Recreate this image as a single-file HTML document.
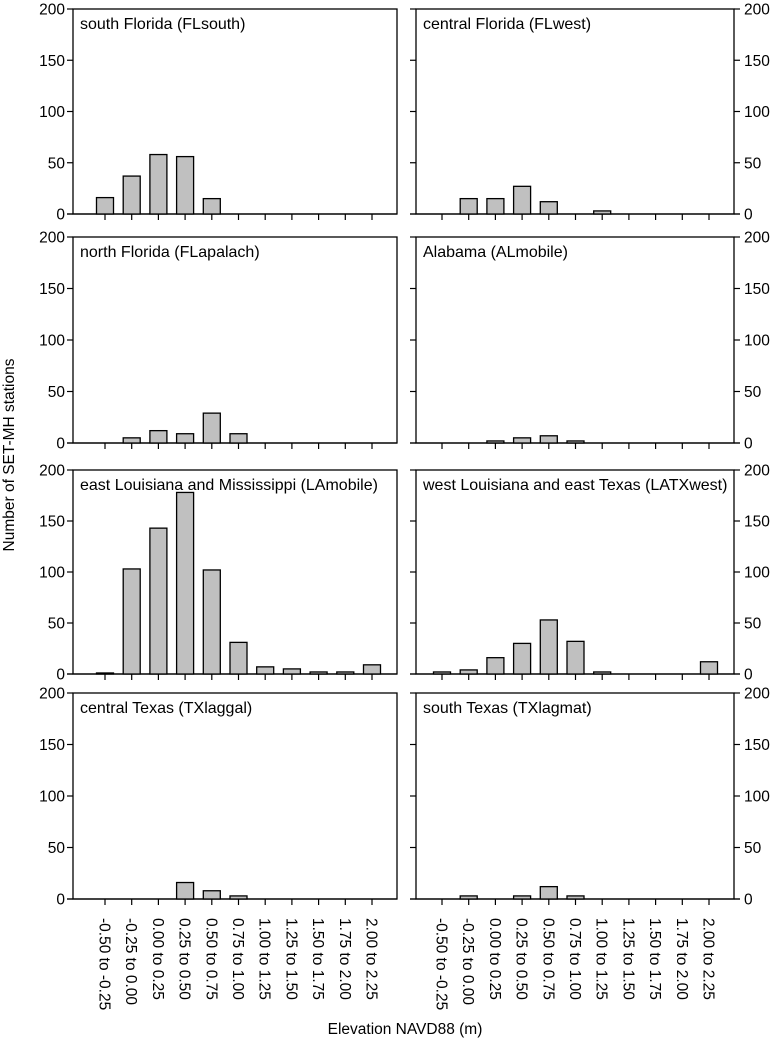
<!DOCTYPE html>
<html><head><meta charset="utf-8"><style>
body{margin:0;background:#fff}
svg{display:block;font-family:"Liberation Sans",Arial,sans-serif}
</style></head><body>
<svg id="chart" width="777" height="1042" xmlns="http://www.w3.org/2000/svg"></svg>
<script>
const categories=["-0.50 to -0.25","-0.25 to 0.00","0.00 to 0.25","0.25 to 0.50","0.50 to 0.75","0.75 to 1.00","1.00 to 1.25","1.25 to 1.50","1.50 to 1.75","1.75 to 2.00","2.00 to 2.25"];
const panelTitles=["south Florida (FLsouth)","central Florida (FLwest)","north Florida (FLapalach)","Alabama (ALmobile)","east Louisiana and Mississippi (LAmobile)","west Louisiana and east Texas (LATXwest)","central Texas (TXlaggal)","south Texas (TXlagmat)"];
const FLsouth=[16,37,58,56,15,0,0,0,0,0,0];
const FLwest=[0,15,15,27,12,0,3,0,0,0,0];
const FLapalach=[0,5,12,9,29,9,0,0,0,0,0];
const ALmobile=[0,0,2,5,7,2,0,0,0,0,0];
const LAmobile=[1,103,143,178,102,31,7,5,2,2,9];
const LATXwest=[2,4,16,30,53,32,2,0,0,0,12];
const TXlaggal=[0,0,0,16,8,3,0,0,0,0,0];
const TXlagmat=[0,3,0,3,12,3,0,0,0,0,0];
const yTicks=[0,50,100,150,200];
const series=[FLsouth,FLwest,FLapalach,ALmobile,LAmobile,LATXwest,TXlaggal,TXlagmat];

const svg=document.getElementById('chart');
const NS="http://www.w3.org/2000/svg";
function mk(tag,attrs,parent){const e=document.createElementNS(NS,tag);for(const k in attrs)e.setAttribute(k,attrs[k]);(parent||svg).appendChild(e);return e;}
const tops=[9,237,470,693], bases=[214,443,674,899];
const cols=[{x0:73,x1:397,first:105,right:false},{x0:416,x1:734,first:442,right:true}];
const step=26.7, bw=17, fs=15.5, tfs=16;
series.forEach((vals,i)=>{
  const r=Math.floor(i/2), c=cols[i%2];
  const top=tops[r], base=bases[r];
  const y=v=>base-(v/200)*(base-top);
  const xc=j=>c.first+j*step;
  const g=mk('g',{});
  
  
  const fr=mk('rect',{x:c.x0,y:top,width:c.x1-c.x0,height:base-top,fill:'none',stroke:'#000','stroke-width':1.3},g);
  
  
  const t=mk('text',{x:c.x0+7,y:top+20,'font-size':tfs},g);t.textContent=panelTitles[i];
  
  
  const ax=c.right?c.x1:c.x0;
  yTicks.forEach(v=>{
    const yy=y(v);
    const ln=mk('line',{x1:ax,x2:c.right?ax+6:ax-6,y1:yy,y2:yy,stroke:'#000','stroke-width':1.2},g);
    
    
    const lb=mk('text',{x:c.right?ax+10:ax-8,y:yy+5.5,'font-size':fs,'text-anchor':c.right?'start':'end'},g);
    lb.textContent=v;
    
    
  });
  if(c.right){yTicks.forEach(v=>{const ln=mk('line',{x1:c.x0,x2:c.x0-6,y1:y(v),y2:y(v),stroke:'#000','stroke-width':1.2},g);
    
    });}
  const bl=mk('line',{x1:c.x0-6,x2:c.x1+(c.right?6:0),y1:base,y2:base,stroke:'#000','stroke-width':1.3},g);
  
  
  categories.forEach((cat,j)=>{
    const tk=mk('line',{x1:xc(j),x2:xc(j),y1:base,y2:base+6,stroke:'#000','stroke-width':1.2},g);
    
    
    const v=vals[j];
    if(v>0){
      const b=mk('rect',{x:xc(j)-bw/2,y:y(v),width:bw,height:base-y(v),fill:'#c0c0c0',stroke:'#000','stroke-width':1.3},g);
      
      
    }
    if(r===3){
      const xl=mk('text',{x:0,y:0,'font-size':fs,transform:'translate('+(xc(j)-5.5)+','+(base+19)+') rotate(90)'},g);
      xl.textContent=cat;
      
      
    }
  });
});
const yt=mk('text',{x:0,y:0,'font-size':fs,'text-anchor':'middle',transform:'translate(14,455) rotate(-90)'});
yt.textContent="Number of SET-MH stations";


const xt=mk('text',{x:405,y:1034,'font-size':fs,'text-anchor':'middle'});
xt.textContent="Elevation NAVD88 (m)";


</script>
</body></html>
